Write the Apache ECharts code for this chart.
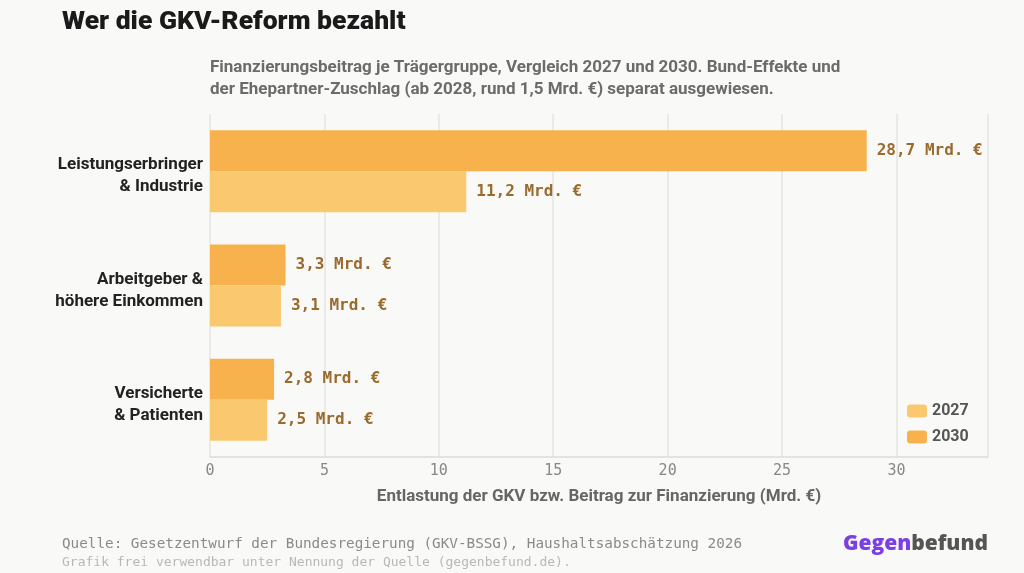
<!DOCTYPE html>
<html>
<head>
<meta charset="utf-8">
<script src="https://cdn.jsdelivr.net/npm/echarts@6/dist/echarts.min.js"></script>
<style>
  html, body { margin: 0; padding: 0; background: #f9f9f7; }
  #chart { width: 1024px; height: 573px; }
</style>
</head>
<body>
<div id="chart"></div>
<script>
// Kategorien (von oben nach unten)
const categories = ['Leistungserbringer\n& Industrie', 'Arbeitgeber &\nhöhere Einkommen', 'Versicherte\n& Patienten']
const values2027 = [11.2, 3.1, 2.5]
const values2030 = [28.7, 3.3, 2.8]
const xTicks = [0, 5, 10, 15, 20, 25, 30]

const chart = echarts.init(document.getElementById('chart'))

function fmt(v) {
  return v.toFixed(1).replace('.', ',') + ' Mrd. €'
}

const labelStyle = {
  show: true,
  position: 'right',
  distance: 10,
  color: '#9a6b2e',
  fontFamily: 'DejaVu Sans Mono',
  fontWeight: 'bold',
  fontSize: 16,
  formatter: (p) => fmt(p.value),
}

const option = {
  backgroundColor: '#f9f9f7',
  animation: false,
  title: [
    {
      text: 'Wer die GKV-Reform bezahlt',
      left: 57,
      top: 4,
      textStyle: {
        fontFamily: 'Roboto',
        fontWeight: 900,
        fontSize: 26.5,
        color: '#1a1a1a',
      },
    },
    {
      text: 'Finanzierungsbeitrag je Trägergruppe, Vergleich 2027 und 2030. Bund-Effekte und\nder Ehepartner-Zuschlag (ab 2028, rund 1,5 Mrd. €) separat ausgewiesen.',
      left: 205,
      top: 52,
      textStyle: {
        fontFamily: 'Roboto',
        fontWeight: 'bold',
        fontSize: 17,
        lineHeight: 22,
        color: '#6b6b6b',
      },
    },
  ],
  legend: {
    orient: 'vertical',
    left: 902,
    top: 398,
    itemWidth: 20,
    itemHeight: 13,
    itemGap: 10,
    data: ['2027', '2030'],
    textStyle: {
      fontFamily: 'Roboto',
      fontWeight: 'bold',
      fontSize: 16,
      color: '#555',
    },
  },
  grid: {
    left: 210,
    right: 36,
    top: 114,
    bottom: 116,
  },
  xAxis: {
    type: 'value',
    min: 0,
    max: 34,
    interval: 5,
    name: 'Entlastung der GKV bzw. Beitrag zur Finanzierung (Mrd. €)',
    nameLocation: 'middle',
    nameGap: 31,
    nameTextStyle: {
      fontFamily: 'Roboto',
      fontWeight: 'bold',
      fontSize: 17,
      color: '#666',
    },
    axisLine: { show: true, lineStyle: { color: '#dcdcdc', width: 1.5 } },
    axisTick: { show: false },
    splitLine: { show: true, lineStyle: { color: '#e4e4e4', width: 1.5 } },
    axisLabel: {
      margin: 7,
      color: '#888',
      fontFamily: 'DejaVu Sans Mono',
      fontSize: 15,
      formatter: (v) => (xTicks.includes(v) ? String(v) : ''),
    },
  },
  yAxis: {
    type: 'category',
    inverse: true,
    data: categories,
    axisLine: { show: false },
    axisTick: { show: false },
    axisLabel: {
      margin: 7,
      color: '#222',
      fontFamily: 'Roboto',
      fontWeight: 'bold',
      fontSize: 17,
      lineHeight: 22,
      align: 'right',
      formatter: (v) => v.split('\n').map((s) => '{c|' + s + '}').join('\n'),
      rich: {
        c: {
          color: '#222',
          fontFamily: 'Roboto',
          fontWeight: 'bold',
          fontSize: 17,
          lineHeight: 22,
          padding: [10, 0, 0, 0],
        },
      },
    },
  },
  series: [
    {
      name: '2030',
      type: 'bar',
      data: values2030,
      color: '#f7b24d',
      barWidth: 41,
      barGap: '0%',
      label: labelStyle,
    },
    {
      name: '2027',
      type: 'bar',
      data: values2027,
      color: '#fac96f',
      barWidth: 41,
      barGap: '0%',
      label: labelStyle,
    },
  ],
  graphic: [
    {
      type: 'text',
      left: 62,
      top: 537,
      style: {
        text: 'Quelle: Gesetzentwurf der Bundesregierung (GKV-BSSG), Haushaltsabschätzung 2026',
        fontFamily: 'DejaVu Sans Mono',
        fontSize: 14.3,
        fill: '#8a8a8a',
      },
    },
    {
      type: 'text',
      left: 62,
      top: 556,
      style: {
        text: 'Grafik frei verwendbar unter Nennung der Quelle (gegenbefund.de).',
        fontFamily: 'DejaVu Sans Mono',
        fontSize: 13,
        fill: '#b8b8b8',
      },
    },
    {
      type: 'text',
      right: 36,
      top: 534,
      style: {
        text: '{a|Gegen}{b|befund}',
        rich: {
          a: { fontFamily: 'Open Sans', fontWeight: 800, fontSize: 21, fill: '#7b3fe4', color: '#7b3fe4' },
          b: { fontFamily: 'Open Sans', fontWeight: 800, fontSize: 21, fill: '#555', color: '#555' },
        },
      },
    },
  ],
}

chart.setOption(option)
</script>
</body>
</html>
